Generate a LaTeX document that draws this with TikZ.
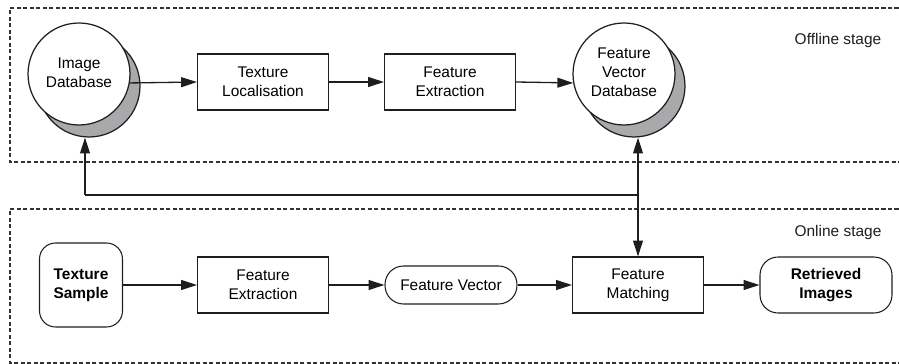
\documentclass[tikz,border=0pt]{standalone}
\usepackage{fontspec}
\setmainfont{Liberation Sans}
\usetikzlibrary{arrows.meta}
\definecolor{linec}{HTML}{1E1E1E}
\definecolor{dashc}{HTML}{333333}
\definecolor{shadowgray}{HTML}{A9A9AB}
\newcommand{\lblfont}{\fontsize{8.8}{10.8}\selectfont}
\begin{document}
\begin{tikzpicture}[x=0.02cm,y=-0.02cm,
  tip/.tip={Triangle[length=9pt,width=5.6pt]},
  proc/.style={draw=linec, line width=0.6pt, minimum width=2.62cm,
    minimum height=1.12cm, align=center, inner sep=1pt, font=\lblfont},
  db/.style={circle, draw=linec, fill=white, minimum size=2.04cm,
    line width=0.7pt, align=center, inner sep=0pt, font=\lblfont},
  dbshadow/.style={circle, draw=linec, fill=shadowgray, minimum size=2.04cm,
    line width=0.7pt},
  term/.style={draw=linec, line width=0.6pt, align=center, inner sep=1pt,
    font=\lblfont\bfseries},
  pill/.style={draw=linec, line width=0.6pt, minimum width=2.64cm,
    minimum height=0.76cm, rounded corners=0.37cm, inner sep=1pt, font=\lblfont},
  stagebox/.style={draw=dashc, line width=0.6pt, dash pattern=on 2.3pt off 1.4pt},
  stagelabel/.style={font=\lblfont, text=linec},
  flow/.style={draw=linec, line width=0.75pt, -tip},
  link/.style={draw=linec, line width=0.75pt}
]
\useasboundingbox (0,0) rectangle (899,364);

% stage frames, open to the right
\path[stagebox] (905,8) -- (10,8) -- (10,162) -- (905,162);
\path[stagebox] (905,209) -- (10,209) -- (10,363) -- (905,363);
\node[stagelabel] (offl) at (838,41) {Offline stage};
\node[stagelabel] (onl) at (838,233) {Online stage};

% offline row
\node[dbshadow] (imgdbsh) at (89,86) {};
\node[db] (imgdb) at (79,74) {\raisebox{-4pt}{\begin{tabular}{@{}c@{}}Image\\Database\end{tabular}}};
\node[proc] (tloc) at (263,82) {Texture\\Localisation};
\node[proc] (fext1) at (450,82) {Feature\\Extraction};
\node[dbshadow] (fvdbsh) at (634,86) {};
\node[db] (fvdb) at (624,74) {\raisebox{-1pt}{\begin{tabular}{@{}c@{}}Feature\\Vector\\Database\end{tabular}}};

\path[flow] (imgdb.-10) -- (tloc.west);
\path[flow] (tloc) -- (fext1);
\path[flow] (fext1.east) -- (fvdb.190);

% online row
\node[term, minimum width=1.66cm, minimum height=1.68cm, rounded corners=0.32cm]
  (tsamp) at (81,285) {Texture\\Sample};
\node[proc] (fext2) at (263,285) {Feature\\Extraction};
\node[pill] (fvec) at (451,285) {Feature Vector};
\node[proc] (fmatch) at (638,285) {Feature\\Matching};
\node[term, minimum width=2.64cm, minimum height=1.12cm, rounded corners=0.36cm]
  (retr) at (826,285) {Retrieved\\Images};

\path[flow] (tsamp) -- (fext2);
\path[flow] (fext2) -- (fvec);
\path[flow] (fvec) -- (fmatch);
\path[flow] (fmatch) -- (retr);

% feedback links between the two stages
\coordinate (fbL) at (85,195);
\coordinate (fbR) at (fmatch.north |- fbL);
\path[link] (fbL) -- (fbR);
\path[flow] (fbL) -- (fbL |- imgdbsh.south);
\path[link, tip-tip] (fmatch.north |- fvdbsh.south) -- (fmatch.north);
\end{tikzpicture}
\end{document}
